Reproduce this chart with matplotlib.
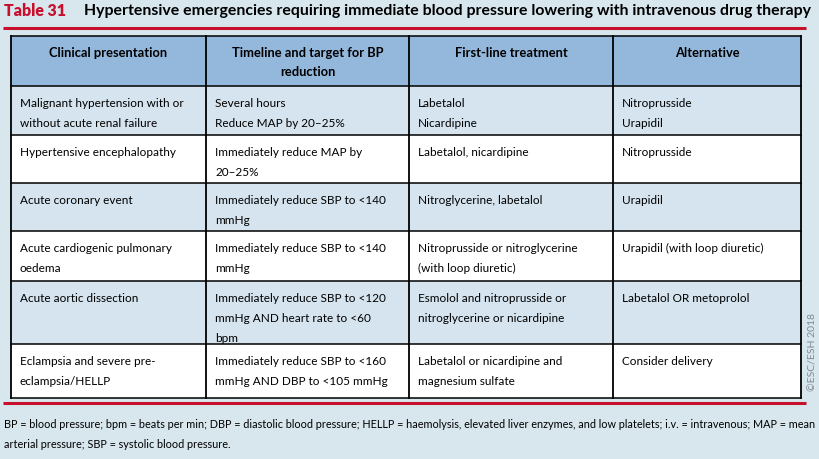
import matplotlib.pyplot as plt
from matplotlib.patches import Rectangle

# Contenido de la tabla
titulo_num = "Table 31"
titulo = "Hypertensive emergencies requiring immediate blood pressure lowering with intravenous drug therapy"

cabecera = ["Clinical presentation", "Timeline and target for BP\nreduction",
            "First-line treatment", "Alternative"]

presentacion = ["Malignant hypertension with or\nwithout acute renal failure",
                "Hypertensive encephalopathy",
                "Acute coronary event",
                "Acute cardiogenic pulmonary\noedema",
                "Acute aortic dissection",
                "Eclampsia and severe pre-\neclampsia/HELLP"]
objetivo = ["Several hours\nReduce MAP by 20\u201325%",
            "Immediately reduce MAP by\n20\u201325%",
            "Immediately reduce SBP to <140\nmmHg",
            "Immediately reduce SBP to <140\nmmHg",
            "Immediately reduce SBP to <120\nmmHg AND heart rate to <60\nbpm",
            "Immediately reduce SBP to <160\nmmHg AND DBP to <105 mmHg"]
primera_linea = ["Labetalol\nNicardipine",
                 "Labetalol, nicardipine",
                 "Nitroglycerine, labetalol",
                 "Nitroprusside or nitroglycerine\n(with loop diuretic)",
                 "Esmolol and nitroprusside or\nnitroglycerine or nicardipine",
                 "Labetalol or nicardipine and\nmagnesium sulfate"]
alternativa = ["Nitroprusside\nUrapidil",
               "Nitroprusside",
               "Urapidil",
               "Urapidil (with loop diuretic)",
               "Labetalol OR metoprolol",
               "Consider delivery"]

nota = ("BP = blood pressure; bpm = beats per min; DBP = diastolic blood pressure; HELLP = haemolysis, elevated liver enzymes, and low platelets; i.v. = intravenous; MAP = mean\n"
        "arterial pressure; SBP = systolic blood pressure.")
copyright_txt = "\u00a9ESC/ESH 2018"

# Geometría (en píxeles)
col_x = [11, 206, 409, 613, 801]
fila_y = [37, 87, 136, 184, 232, 282, 345, 399]

fondo = "#d8e7ee"
azul_cab = "#94b7dc"
azul_fila = "#d5e4ee"
rojo = "#c8102e"

plt.rcParams['font.family'] = ['Lato', 'DejaVu Sans']

fig = plt.figure(figsize=(8.19, 4.6), dpi=100, facecolor=fondo)
ax = fig.add_axes([0, 0, 1, 1])
ax.set_xlim(0, 819)
ax.set_ylim(460, 0)
ax.axis('off')

# Título
ax.text(4, 11, titulo_num, color=rojo, fontsize=11.4, fontweight='heavy', va='center')
ax.text(84, 11, titulo, color='black', fontsize=11.4, fontweight='bold', va='center')
ax.plot([3, 806], [29, 29], color=rojo, lw=2.2, solid_capstyle='butt')
ax.plot([3, 806], [404, 404], color=rojo, lw=2.2, solid_capstyle='butt')

# Celdas
filas = list(zip(presentacion, objetivo, primera_linea, alternativa))
for i in range(len(fila_y) - 1):
    y0, y1 = fila_y[i], fila_y[i + 1]
    if i == 0:
        color = azul_cab
    elif i % 2 == 1:
        color = azul_fila
    else:
        color = 'white'
    ax.add_patch(Rectangle((col_x[0], y0), col_x[-1] - col_x[0], y1 - y0,
                           facecolor=color, edgecolor='none', zorder=1))
    for j in range(4):
        if i == 0:
            ax.text((col_x[j] + col_x[j + 1]) / 2, y0 + 10, cabecera[j], ha='center', va='top',
                    fontsize=9.3, fontweight='bold', linespacing=1.7, zorder=3)
        else:
            ax.text(col_x[j] + 9, y0 + 11, filas[i - 1][j], ha='left', va='top',
                    fontsize=8.5, linespacing=2.0, zorder=3)

# Rejilla
for y in fila_y:
    ax.plot([col_x[0], col_x[-1]], [y, y], color='black', lw=1.1, zorder=2)
for x in col_x:
    ax.plot([x, x], [fila_y[0], fila_y[-1]], color='black', lw=1.3, zorder=2)

# Nota al pie
ax.text(4, 419, nota, ha='left', va='top', fontsize=7.8, linespacing=2.0)

ax.text(813, 352, copyright_txt, rotation=90, ha='center', va='center',
        fontsize=7.5, color='#808890')

fig.savefig('out.png', dpi=100, facecolor=fondo)
